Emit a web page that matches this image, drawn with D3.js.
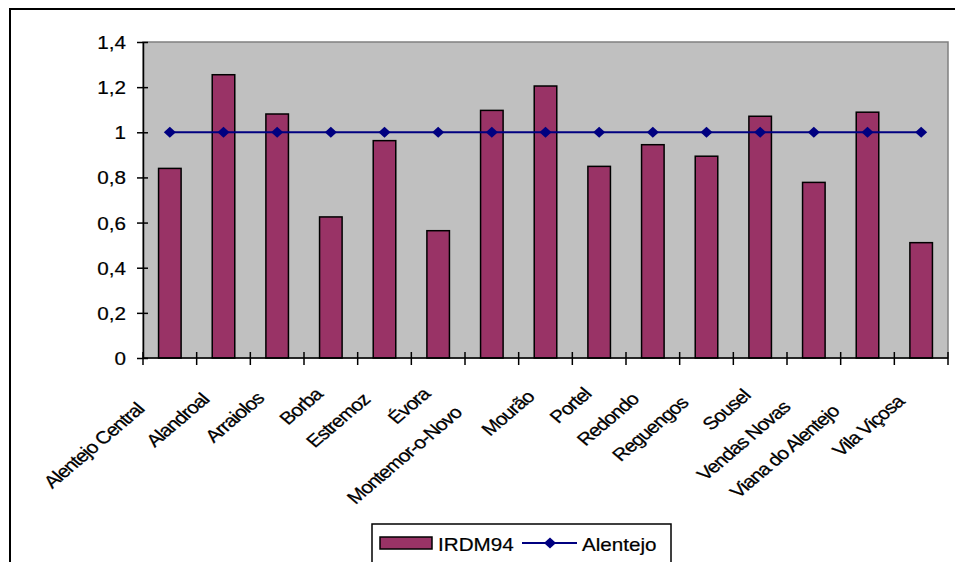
<!DOCTYPE html>
<html><head><meta charset="utf-8">
<script src="https://cdn.jsdelivr.net/npm/d3@7"></script>
<style>body{margin:0;background:#fff}svg{display:block}text{font-family:"Liberation Sans",Arial,sans-serif;fill:#000}</style>
</head><body><svg id="c" width="955" height="562"></svg>
<script>
const categories = ["Alentejo Central","Alandroal","Arraiolos","Borba","Estremoz","Évora","Montemor-o-Novo","Mourão","Portel","Redondo","Reguengos","Sousel","Vendas Novas","Viana do Alentejo","Vila Viçosa"];
const irdm94 = [0.84,1.255,1.081,0.625,0.963,0.564,1.097,1.205,0.849,0.945,0.894,1.071,0.778,1.089,0.511];
const alentejo = [1,1,1,1,1,1,1,1,1,1,1,1,1,1,1];
const yTickValues = [0,0.2,0.4,0.6,0.8,1,1.2,1.4];
const yTickLabels = ["0","0,2","0,4","0,6","0,8","1","1,2","1,4"];
const seriesNames = ["IRDM94","Alentejo"];

const W=955,H=562;
const plot={left:143,right:948,top:42,bottom:358};
const SX=1.18;
const barColor="#993366", lineColor="#000080";
const svg=d3.select("#c");
svg.append("rect").attr("width",W).attr("height",H).attr("fill","#fff");
svg.append("rect").attr("x",10).attr("y",9).attr("width",1000).attr("height",600)
  .attr("fill","none").attr("stroke","#000").attr("stroke-width",2);

const x=d3.scaleBand().domain(categories).range([plot.left,plot.right]).padding(0);
const y=d3.scaleLinear().domain([0,1.4]).range([plot.bottom,plot.top]);
const bw=x.bandwidth(), barW=bw*0.42;

svg.append("rect").attr("x",plot.left).attr("y",plot.top)
  .attr("width",plot.right-plot.left).attr("height",plot.bottom-plot.top)
  .attr("fill","#c0c0c0").attr("stroke","#808080").attr("stroke-width",1.5);

// bars
svg.append("g").selectAll("rect").data(irdm94).join("rect")
  .attr("x",(d,i)=>x(categories[i])+(bw-barW)/2)
  .attr("y",d=>y(d)).attr("width",barW).attr("height",d=>y(0)-y(d))
  .attr("fill",barColor).attr("stroke","#000").attr("stroke-width",1.5);

// y axis
const yAxis=svg.append("g").attr("transform",`translate(${plot.left},0)`)
  .call(d3.axisLeft(y).tickValues(yTickValues).tickFormat((d,i)=>yTickLabels[i]).tickSizeInner(6).tickSizeOuter(0));
yAxis.select(".domain").attr("stroke","#000").attr("stroke-width",1.5);
yAxis.selectAll(".tick line").attr("x1",5).attr("stroke","#000").attr("stroke-width",1.5);
yAxis.selectAll(".tick text").attr("x",0).attr("dy",null).attr("y",6.5)
  .attr("transform",`translate(-17,0) scale(${SX},1)`).attr("font-size",17.5)
  .attr("font-family",'"Liberation Sans",Arial,sans-serif').attr("fill","#000")
  .attr("stroke","#000").attr("stroke-width",0.2);

// x axis
const xg=svg.append("g");
xg.append("line").attr("x1",plot.left).attr("x2",plot.right).attr("y1",y(0)).attr("y2",y(0))
  .attr("stroke","#000").attr("stroke-width",1.5);
const bounds=categories.map(c=>x(c)).concat([plot.right]);
xg.selectAll("line.t").data(bounds).join("line").attr("class","t")
  .attr("x1",d=>d).attr("x2",d=>d).attr("y1",y(0)-6).attr("y2",y(0)+7)
  .attr("stroke","#000").attr("stroke-width",1.5);

// x labels
const lab=xg.selectAll("g.l").data(categories).join("g").attr("class","l");
lab.append("text").attr("text-anchor","end").attr("font-size",17.5)
  .attr("letter-spacing","-0.8px").attr("stroke","#000").attr("stroke-width",0.25).text(d=>d);
lab.each(function(d){
  const L=d3.select(this).select("text").node().getComputedTextLength();
  const s=-0.3*(L-68);
  const ex=x(d)+bw/2-13.5+s*0.707*SX;
  const ey=401-s*0.707;
  d3.select(this).attr("transform",`translate(${ex},${ey}) scale(${SX},1) rotate(-45)`);
});

// line series
const cx=c=>x(c)+bw/2;
svg.append("path").datum(alentejo)
  .attr("d",d3.line().x((d,i)=>cx(categories[i])).y(d=>y(d)))
  .attr("fill","none").attr("stroke",lineColor).attr("stroke-width",2);
const diamond="M0,-5.5L6,0L0,5.5L-6,0Z";
svg.append("g").selectAll("path").data(alentejo).join("path")
  .attr("transform",(d,i)=>`translate(${cx(categories[i])},${y(d)})`)
  .attr("d",diamond).attr("fill",lineColor);

// legend
const lg=svg.append("g");
lg.append("rect").attr("x",372).attr("y",524).attr("width",299).attr("height",60)
  .attr("fill","#fff").attr("stroke","#000").attr("stroke-width",1.5);
lg.append("rect").attr("x",380).attr("y",537).attr("width",52).attr("height",12)
  .attr("fill",barColor).attr("stroke","#000").attr("stroke-width",1.5);
lg.append("g").attr("transform",`translate(438,551) scale(${SX},1)`)
  .append("text").attr("font-size",17.5).attr("stroke","#000").attr("stroke-width",0.2).text(seriesNames[0]);
lg.append("line").attr("x1",522).attr("x2",577).attr("y1",543).attr("y2",543)
  .attr("stroke",lineColor).attr("stroke-width",2);
lg.append("path").attr("transform","translate(550,543)").attr("d",diamond).attr("fill",lineColor);
lg.append("g").attr("transform",`translate(582,551) scale(${SX},1)`)
  .append("text").attr("font-size",17.5).attr("stroke","#000").attr("stroke-width",0.2).text(seriesNames[1]);
</script></body></html>
